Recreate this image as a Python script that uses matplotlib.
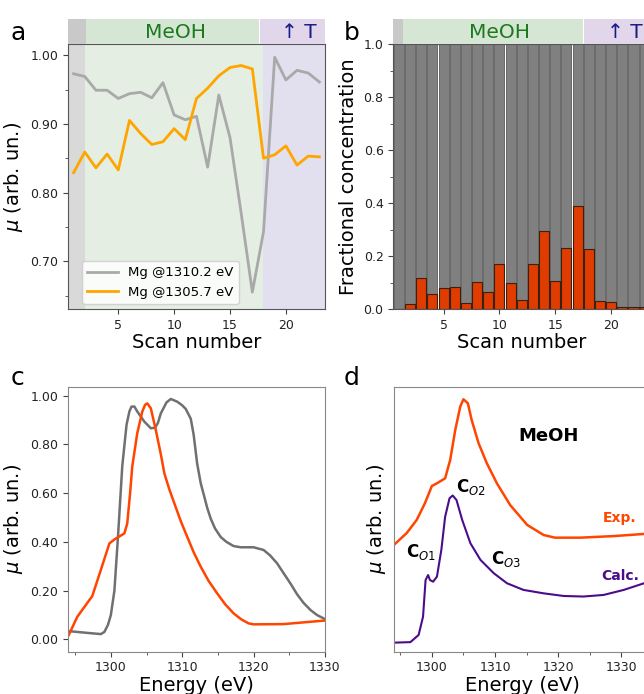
import numpy as np
import matplotlib
matplotlib.use('Agg')
import matplotlib.pyplot as plt
from matplotlib.ticker import MultipleLocator

# ---- data ----
scans = np.arange(1, 24)

# panel a: absorption at two energies vs scan
mg_1310 = [0.973, 0.969, 0.949, 0.949, 0.937, 0.944, 0.946, 0.938, 0.960, 0.913,
           0.906, 0.911, 0.837, 0.942, 0.880, 0.770, 0.655, 0.743, 0.997, 0.964,
           0.978, 0.974, 0.961]
mg_1305 = [0.829, 0.859, 0.836, 0.856, 0.833, 0.905, 0.886, 0.870, 0.874, 0.893,
           0.877, 0.937, 0.952, 0.970, 0.982, 0.985, 0.980, 0.850, 0.855, 0.868,
           0.840, 0.853, 0.852]

# panel b: fractional concentration of the MeOH component
frac_meoh = [0.0, 0.020, 0.118, 0.058, 0.080, 0.083, 0.024, 0.103, 0.067, 0.170,
             0.100, 0.035, 0.172, 0.294, 0.107, 0.233, 0.390, 0.228, 0.030, 0.026,
             0.008, 0.008, 0.010]

# panel c: reference spectrum (gray) and MeOH component (red)
e_ref = [1294.2, 1296.7, 1298.6, 1299.1, 1299.6, 1300.0, 1300.5, 1301.0, 1301.6, 1302.2,
         1302.6, 1302.9, 1303.3, 1303.7, 1304.7, 1305.6, 1306.2, 1306.6, 1307.0, 1307.8,
         1308.4, 1309.3, 1310.0, 1310.5, 1311.2, 1311.6, 1312.1, 1312.6, 1313.1, 1313.5,
         1314.0, 1314.6, 1315.4, 1316.2, 1317.2, 1318.2, 1320.0, 1321.4, 1322.3, 1323.3,
         1324.2, 1325.2, 1326.1, 1327.0, 1328.0, 1328.9, 1330.1]
mu_ref = [0.034, 0.027, 0.022, 0.031, 0.06, 0.10, 0.20, 0.42, 0.71, 0.88,
          0.935, 0.955, 0.955, 0.935, 0.893, 0.866, 0.868, 0.888, 0.927, 0.972,
          0.986, 0.975, 0.960, 0.945, 0.905, 0.84, 0.72, 0.64, 0.585, 0.54,
          0.495, 0.455, 0.420, 0.400, 0.383, 0.378, 0.378, 0.367, 0.345, 0.312,
          0.272, 0.228, 0.185, 0.150, 0.120, 0.100, 0.082]
e_meoh = [1294.1, 1295.3, 1297.4, 1298.6, 1299.8, 1300.5, 1301.9, 1302.3, 1302.7, 1303.0,
          1303.7, 1304.4, 1304.8, 1305.1, 1305.6, 1306.3, 1307.0, 1307.5, 1308.2, 1308.9,
          1309.8, 1310.7, 1311.6, 1312.6, 1313.7, 1314.9, 1316.0, 1317.2, 1318.3, 1319.3,
          1320.0, 1324.2, 1330.1]
mu_meoh = [0.018, 0.093, 0.178, 0.285, 0.394, 0.410, 0.435, 0.476, 0.60, 0.709,
           0.845, 0.934, 0.962, 0.968, 0.948, 0.859, 0.76, 0.681, 0.615, 0.558,
           0.485, 0.421, 0.358, 0.298, 0.240, 0.189, 0.145, 0.107, 0.082, 0.066,
           0.062, 0.063, 0.078]

# panel d: experimental vs calculated MeOH spectrum (offset, arb. units)
e_exp = [1294.0, 1296.0, 1297.6, 1298.9, 1300.0, 1300.8, 1302.1, 1302.9, 1303.7, 1304.5,
         1305.0, 1305.7, 1306.3, 1307.4, 1308.7, 1310.3, 1312.4, 1315.1, 1317.7, 1319.5,
         1323.5, 1328.8, 1333.6, 1335.0]
mu_exp = [0.403, 0.447, 0.497, 0.560, 0.625, 0.635, 0.654, 0.723, 0.836, 0.925,
          0.952, 0.937, 0.874, 0.786, 0.711, 0.635, 0.553, 0.478, 0.440, 0.430,
          0.430, 0.436, 0.444, 0.446]
e_calc = [1294.0, 1296.6, 1297.9, 1298.6, 1299.0, 1299.4, 1299.7, 1300.2, 1300.8, 1301.5,
          1302.1, 1302.8, 1303.3, 1303.9, 1304.8, 1306.1, 1307.7, 1309.8, 1311.9, 1314.5,
          1317.7, 1320.9, 1324.0, 1327.2, 1330.4, 1333.6, 1335.0]
mu_calc = [0.034, 0.036, 0.063, 0.132, 0.270, 0.289, 0.270, 0.264, 0.283, 0.384,
           0.509, 0.579, 0.589, 0.572, 0.497, 0.409, 0.346, 0.296, 0.258, 0.233,
           0.220, 0.210, 0.208, 0.214, 0.233, 0.258, 0.268]

# region colours
c_gray_bg, c_green_bg, c_purple_bg = '#d9d9d9', '#e4eee2', '#e2e0ef'
c_gray_hd, c_green_hd, c_purple_hd = '#c9c9c9', '#d6e6d5', '#e2d7ea'

fig = plt.figure(figsize=(6.44, 6.94), dpi=100)

W, H = 0.399, 0.382


def header(rect, spans, meoh_x, t_x):
    # coloured strip above the panel
    hx = fig.add_axes(rect)
    hx.set_xlim(0.5, 23.5)
    hx.set_ylim(0, 1)
    for (x0, x1), col in zip(spans, [c_gray_hd, c_green_hd, c_purple_hd]):
        hx.axvspan(x0, x1, color=col, lw=0)
    hx.text(meoh_x, 0.47, 'MeOH', color='#1c7a1c', fontsize=14.5, ha='center', va='center')
    hx.text(t_x, 0.47, '\u2191 T', color='#1b1b8a', fontsize=14.5, ha='center', va='center')
    hx.axis('off')


def style(ax, spine='#555555'):
    for s in ax.spines.values():
        s.set_color(spine)
    ax.tick_params(colors='#444444', labelsize=9, labelcolor='#222222')
    ax.tick_params(which='minor', colors='#444444')


# ---- panel a ----
ax_a = fig.add_axes([0.1056, 0.5543, W, H])
ax_a.axvspan(0.5, 2.0, color=c_gray_bg, lw=0)
ax_a.axvspan(2.0, 17.95, color=c_green_bg, lw=0)
ax_a.axvspan(17.95, 23.5, color=c_purple_bg, lw=0)
ax_a.plot(scans, mg_1310, color='darkgray', lw=2, label='Mg @1310.2 eV')
ax_a.plot(scans, mg_1305, color='orange', lw=2, label='Mg @1305.7 eV')
ax_a.set_xlim(0.5, 23.5)
ax_a.set_ylim(0.63, 1.016)
ax_a.xaxis.set_major_locator(MultipleLocator(5))
ax_a.yaxis.set_major_locator(MultipleLocator(0.1))
ax_a.yaxis.set_minor_locator(MultipleLocator(0.05))
ax_a.yaxis.set_major_formatter('{x:.2f}')
ax_a.set_xlabel('Scan number', fontsize=14, labelpad=1)
ax_a.set_ylabel(r'$\mu$ (arb. un.)', fontsize=14)
style(ax_a)
ax_a.legend(loc='lower left', bbox_to_anchor=(0.055, 0.02), borderaxespad=0,
            fontsize=9.5, handlelength=2.3, framealpha=0.85)
header([0.1056, 0.9362, W, 0.036], [(0.5, 2.12), (2.12, 17.6), (17.7, 23.5)], 10.1, 21.2)
fig.text(0.016, 0.942, 'a', fontsize=18)

# ---- panel b ----
ax_b = fig.add_axes([0.6107, 0.5543, W, H])
ax_b.bar(scans, np.ones(len(scans)), width=0.9, color='#808080', edgecolor='#5c5c5c', lw=0.6)
ax_b.bar(scans, frac_meoh, width=0.9, color='#e03c00', edgecolor='#3a2010', lw=0.8)
ax_b.set_xlim(0.5, 23.5)
ax_b.set_ylim(0, 1.0)
ax_b.xaxis.set_major_locator(MultipleLocator(5))
ax_b.yaxis.set_major_locator(MultipleLocator(0.2))
ax_b.yaxis.set_minor_locator(MultipleLocator(0.1))
ax_b.yaxis.set_major_formatter('{x:.1f}')
ax_b.set_xlabel('Scan number', fontsize=14, labelpad=1)
ax_b.set_ylabel('Fractional concentration', fontsize=14)
style(ax_b)
header([0.6107, 0.9362, W, 0.036], [(0.5, 1.4), (1.4, 17.45), (17.6, 23.5)], 10.0, 21.2)
fig.text(0.534, 0.942, 'b', fontsize=18)

# ---- panel c ----
ax_c = fig.add_axes([0.1056, 0.0610, W, H])
ax_c.plot(e_ref, mu_ref, color='#707070', lw=1.8)
ax_c.plot(e_meoh, mu_meoh, color='#ff4500', lw=1.8)
ax_c.set_xlim(1294, 1330)
ax_c.set_ylim(-0.05, 1.037)
ax_c.xaxis.set_major_locator(MultipleLocator(10))
ax_c.xaxis.set_minor_locator(MultipleLocator(5))
ax_c.yaxis.set_major_locator(MultipleLocator(0.2))
ax_c.yaxis.set_major_formatter('{x:.2f}')
ax_c.set_xlabel('Energy (eV)', fontsize=14, labelpad=1)
ax_c.set_ylabel(r'$\mu$ (arb. un.)', fontsize=14)
style(ax_c, '#888888')
fig.text(0.016, 0.445, 'c', fontsize=18)

# ---- panel d ----
ax_d = fig.add_axes([0.6118, 0.0610, W, H])
ax_d.plot(e_exp, mu_exp, color='#ff4500', lw=1.8)
ax_d.plot(e_calc, mu_calc, color='#4b0c8c', lw=1.5)
ax_d.set_xlim(1294, 1334.7)
ax_d.set_ylim(0, 1)
ax_d.xaxis.set_major_locator(MultipleLocator(10))
ax_d.xaxis.set_minor_locator(MultipleLocator(5))
ax_d.set_yticks([])
ax_d.set_xlabel('Energy (eV)', fontsize=14, labelpad=1)
ax_d.set_ylabel(r'$\mu$ (arb. un.)', fontsize=14)
style(ax_d, '#888888')
ax_d.text(1318.5, 0.815, 'MeOH', fontsize=13, fontweight='bold', ha='center', va='center')
ax_d.text(1327.0, 0.505, 'Exp.', fontsize=10, fontweight='bold', color='#ff4500', va='center')
ax_d.text(1326.9, 0.285, 'Calc.', fontsize=10, fontweight='bold', color='#4b0c8c', va='center')
ax_d.text(1298.3, 0.375, r'$\mathbf{C}_{O1}$', fontsize=12, ha='center', va='center')
ax_d.text(1306.2, 0.62, r'$\mathbf{C}_{O2}$', fontsize=12, ha='center', va='center')
ax_d.text(1311.8, 0.35, r'$\mathbf{C}_{O3}$', fontsize=12, ha='center', va='center')
fig.text(0.534, 0.445, 'd', fontsize=18)

plt.savefig('out.png', dpi=100)
plt.close('all')
